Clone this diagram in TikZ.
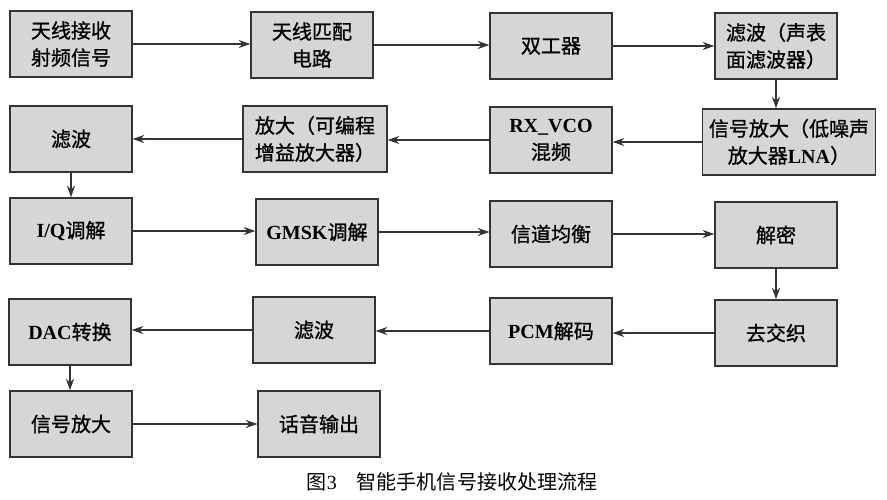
\documentclass[tikz,border=0pt]{standalone}
\usepackage{fontspec}
\setmainfont{Liberation Serif}
\newfontfamily\cjk{Noto Sans CJK SC}
\newfontfamily\cjkdick{Noto Sans CJK SC}[FakeBold=0.9]
\newfontfamily\latfont{Liberation Serif}
\newcommand\lat[1]{{\latfont\bfseries #1}}
\usetikzlibrary{arrows.meta}
\definecolor{kastenfill}{HTML}{D6D6D6}
\definecolor{kastenrand}{HTML}{333333}
\tikzset{
  kasten/.style={draw=kastenrand, fill=kastenfill, line width=0.85pt,
    minimum width=2.44cm, minimum height=1.32cm, align=center, inner sep=1pt,
    font=\cjkdick\fontsize{11.4}{15.4}\selectfont},
  pfeil/.style={draw=kastenrand, line width=0.6pt, -{Stealth[length=2.3mm,width=1.6mm]}}
}
\begin{document}
\begin{tikzpicture}[x=0.02cm, y=-0.02cm]
			\useasboundingbox (0,0) rectangle (887,500);
			
			% 第一行
			\node[kasten] (tianxian) at (71,44) {天线接收\\射频信号};
			\node[kasten] (pipei) at (312,45) {天线匹配\\电路};
			\node[kasten] (shuanggong) at (551,46) {双工器};
			\node[kasten] (shengbiao) at (776,46) {滤波（声表\\面滤波器）};
			
			% 第二行
			\node[kasten] (lvbo) at (71,139) {滤波};
			\node[kasten, minimum width=2.88cm] (kebian) at (315,139) {放大（可编程\\增益放大器）};
			\node[kasten] (hunpin) at (551,140) {\lat{RX\_VCO}\\混频};
			\node[kasten, minimum width=3.46cm] (dizao) at (789,142) {信号放大（低噪声\\放大器\lat{LNA}）};
			
			% 第三行
			\node[kasten] (iq) at (71,231) {\lat{I/Q}调解};
			\node[kasten] (gmsk) at (317,232) {\lat{GMSK}调解};
			\node[kasten] (junheng) at (551,234) {信道均衡};
			\node[kasten] (jiemi) at (776,235) {解密};
			
			% 第四行
			\node[kasten] (dac) at (70,332) {\lat{DAC}转换};
			\node[kasten] (lvbo2) at (314,330) {滤波};
			\node[kasten] (pcm) at (551,331) {\lat{PCM}解码};
			\node[kasten] (jiaozhi) at (776,333) {去交织};
			
			% 第五行
			\node[kasten] (fangda) at (71,424) {信号放大};
			\node[kasten] (shuchu) at (319,424) {话音输出};
			
			% 箭头
			\draw[pfeil] (tianxian.east) -- (tianxian.east -| pipei.west);
			\draw[pfeil] (pipei.east) -- (pipei.east -| shuanggong.west);
			\draw[pfeil] (shuanggong.east) -- (shuanggong.east -| shengbiao.west);
			\draw[pfeil] (shengbiao.south) -- (shengbiao.south |- dizao.north);
			\draw[pfeil] (dizao.west) -- (dizao.west -| hunpin.east);
			\draw[pfeil] (hunpin.west) -- (hunpin.west -| kebian.east);
			\draw[pfeil] (kebian.west) -- (kebian.west -| lvbo.east);
			\draw[pfeil] (lvbo.south) -- (lvbo.south |- iq.north);
			\draw[pfeil] (iq.east) -- (iq.east -| gmsk.west);
			\draw[pfeil] (gmsk.east) -- (gmsk.east -| junheng.west);
			\draw[pfeil] (junheng.east) -- (junheng.east -| jiemi.west);
			\draw[pfeil] (jiemi.south) -- (jiemi.south |- jiaozhi.north);
			\draw[pfeil] (jiaozhi.west) -- (jiaozhi.west -| pcm.east);
			\draw[pfeil] (pcm.west) -- (pcm.west -| lvbo2.east);
			\draw[pfeil] (lvbo2.west) -- (lvbo2.west -| dac.east);
			\draw[pfeil] (dac.south) -- (dac.south |- fangda.north);
			\draw[pfeil] (fangda.east) -- (fangda.east -| shuchu.west);
			
			% 图题
			\node[font=\cjk\fontsize{11.4}{14}\selectfont] (titi) at (452,482) {图{\latfont 3}\quad 智能手机信号接收处理流程};
\end{tikzpicture}
\end{document}
